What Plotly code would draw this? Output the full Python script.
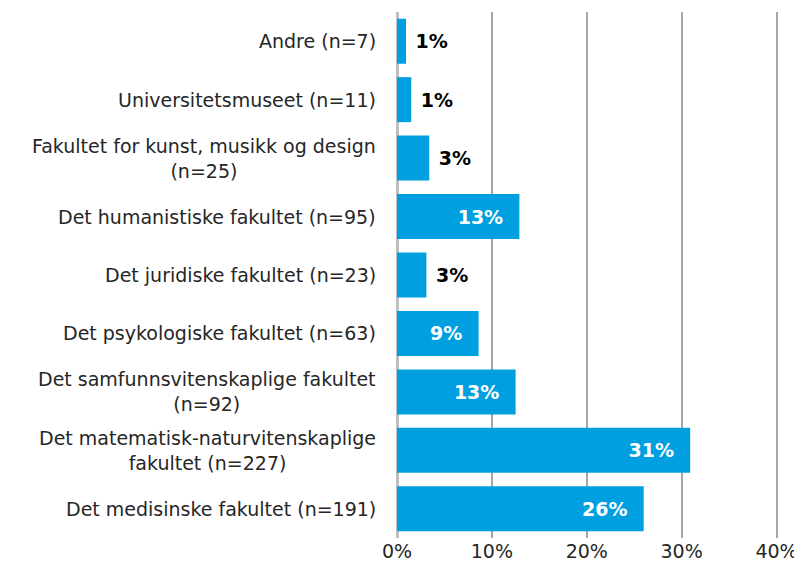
import plotly.graph_objects as go

categories = [
    "Andre (n=7)",
    "Universitetsmuseet (n=11)",
    "Fakultet for kunst, musikk og design<br>(n=25)",
    "Det humanistiske fakultet (n=95)",
    "Det juridiske fakultet (n=23)",
    "Det psykologiske fakultet (n=63)",
    "Det samfunnsvitenskaplige fakultet<br>(n=92)",
    "Det matematisk-naturvitenskaplige<br>fakultet (n=227)",
    "Det medisinske fakultet (n=191)",
]
shares = [0.0095, 0.015, 0.034, 0.129, 0.031, 0.086, 0.125, 0.309, 0.260]
labels = ["1%", "1%", "3%", "13%", "3%", "9%", "13%", "31%", "26%"]

FONT = "DejaVu Sans, Verdana, sans-serif"
BLUE = "#009FE0"
SIZE = 19

inside = [s > 0.05 for s in shares]
# non-breaking spaces give the labels a little padding from the bar end
texts = [(t + "\u00a0\u00a0" if ins else "\u00a0" + t) for t, ins in zip(labels, inside)]

fig = go.Figure()
fig.add_trace(go.Bar(
    x=shares,
    y=categories,
    orientation="h",
    marker=dict(color=BLUE, line=dict(width=0)),
    text=texts,
    textposition=["inside" if ins else "outside" for ins in inside],
    insidetextanchor="end",
    textangle=0,
    insidetextfont=dict(family=FONT, size=SIZE, color="white", weight="bold"),
    outsidetextfont=dict(family=FONT, size=SIZE, color="black", weight="bold"),
    cliponaxis=False,
    width=0.77,
))

# category labels as annotations so wrapped lines are centred
for cat in categories:
    fig.add_annotation(
        x=0, xref="paper", y=cat, yref="y",
        text=cat, showarrow=False, xanchor="right", xshift=-19,
        align="center", font=dict(family=FONT, size=SIZE, color="#262626"),
    )

# page body adds an 8px margin, so the figure is 8px smaller each way
fig.update_layout(
    width=794, height=566,
    margin=dict(l=389, r=16, t=4, b=36, autoexpand=False),
    plot_bgcolor="white", paper_bgcolor="white",
    showlegend=False,
    bargap=0.23,
)
# range runs a bit past 40% so that the 40% gridline is drawn
fig.update_xaxes(
    range=[0, 0.41], tickvals=[0, 0.1, 0.2, 0.3, 0.4], tickformat=".0%",
    showgrid=True, gridcolor="#A6A6A6", gridwidth=2,
    zeroline=True, zerolinecolor="#BFBFBF", zerolinewidth=3,
    tickfont=dict(family=FONT, size=SIZE, color="#262626"),
    ticks="", fixedrange=True, automargin=False,
)
fig.update_yaxes(
    categoryorder="array", categoryarray=categories, autorange="reversed",
    showticklabels=False, ticks="", showgrid=False, automargin=False,
)

fig.write_html("out.html")
